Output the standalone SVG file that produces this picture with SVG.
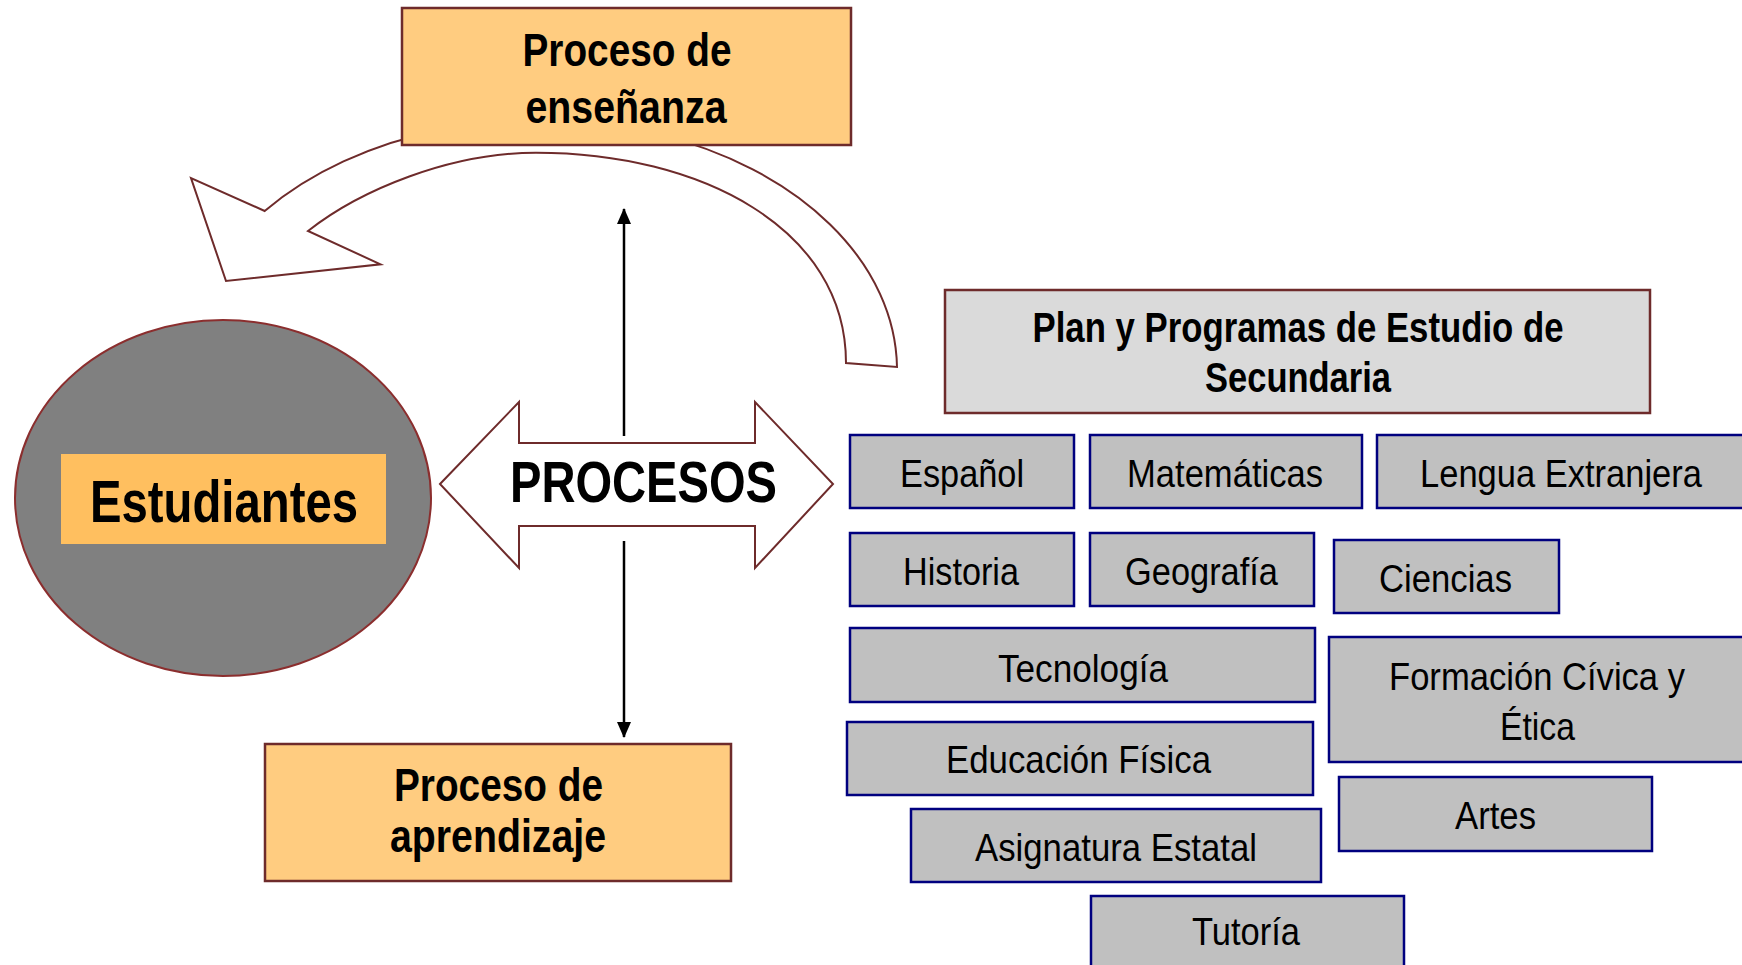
<svg xmlns="http://www.w3.org/2000/svg" width="1742" height="965" viewBox="0 0 1742 965">
<defs>
<style>
.bold{font-family:"Liberation Sans Narrow","Liberation Sans",Arial,sans-serif;font-weight:bold;fill:#000;text-anchor:middle}
.reg{font-family:"Liberation Sans Narrow","Liberation Sans",Arial,sans-serif;font-size:39px;fill:#000;text-anchor:middle}
.subj{fill:#C0C0C0;stroke:#00007F;stroke-width:2.5}
.orange{fill:#FFCC80;stroke:#6E2B2B;stroke-width:2.5}
.shape{fill:#FFFFFF;stroke:#6E2B2B;stroke-width:2}
</style>
<marker id="ah" markerUnits="userSpaceOnUse" markerWidth="16" markerHeight="16" viewBox="0 0 16 16" refX="15" refY="8" orient="auto">
<path d="M0,1 L16,8 L0,15 Z" fill="#000"/>
</marker>
</defs>
<rect width="1742" height="965" fill="#FFFFFF"/>

<g id="connectors">
<path id="curved-arrow" class="shape" d="M897,367 A357,250 0 0 0 264.7,211 L191,178 L226,281 L380.5,264.3 L308,231 C360,190 450,152.7 536,152.7 C700,152.7 846,228 846,363 Z"/>
<line x1="624" y1="436" x2="624" y2="209" stroke="#000" stroke-width="2.5" marker-end="url(#ah)"/>
<line x1="624" y1="541" x2="624" y2="737" stroke="#000" stroke-width="2.5" marker-end="url(#ah)"/>
</g>

<g id="proceso-ensenanza">
<rect class="orange" x="402" y="8" width="449" height="137"/>
<text class="bold" font-size="46" x="627" y="66" textLength="209" lengthAdjust="spacingAndGlyphs">Proceso de</text>
<text class="bold" font-size="46" x="626" y="123" textLength="201" lengthAdjust="spacingAndGlyphs">enseñanza</text>
</g>

<g id="estudiantes">
<ellipse cx="223" cy="498" rx="208" ry="178" fill="#808080" stroke="#8B2E2E" stroke-width="2"/>
<rect x="61" y="454" width="325" height="90" fill="#FFBF5F"/>
<text class="bold" font-size="60" x="224" y="522" textLength="268" lengthAdjust="spacingAndGlyphs">Estudiantes</text>
</g>

<g id="procesos">
<path class="shape" d="M440,484 L519,402 L519,443 L755,443 L755,402 L833,484 L755,568 L755,526 L519,526 L519,568 Z"/>
<text class="bold" font-size="58" x="643.5" y="502" textLength="267" lengthAdjust="spacingAndGlyphs">PROCESOS</text>
</g>

<g id="proceso-aprendizaje">
<rect class="orange" x="265" y="744" width="466" height="137"/>
<text class="bold" font-size="46" x="498.5" y="801" textLength="209" lengthAdjust="spacingAndGlyphs">Proceso de</text>
<text class="bold" font-size="46" x="498" y="852" textLength="216" lengthAdjust="spacingAndGlyphs">aprendizaje</text>
</g>

<g id="plan">
<rect x="945" y="290" width="705" height="123" fill="#DADADA" stroke="#6E2B2B" stroke-width="2.5"/>
<text class="bold" font-size="42" x="1298" y="342" textLength="531" lengthAdjust="spacingAndGlyphs">Plan y Programas de Estudio de</text>
<text class="bold" font-size="42" x="1298" y="392" textLength="186" lengthAdjust="spacingAndGlyphs">Secundaria</text>
</g>

<g id="espanol"><rect class="subj" x="850" y="435" width="224" height="73"/><text class="reg" x="962" y="487" textLength="124" lengthAdjust="spacingAndGlyphs">Español</text></g>
<g id="matematicas"><rect class="subj" x="1090" y="435" width="272" height="73"/><text class="reg" x="1225" y="487" textLength="196" lengthAdjust="spacingAndGlyphs">Matemáticas</text></g>
<g id="lengua-extranjera"><rect class="subj" x="1377" y="435" width="380" height="73"/><text class="reg" x="1561" y="487" textLength="282" lengthAdjust="spacingAndGlyphs">Lengua Extranjera</text></g>
<g id="historia"><rect class="subj" x="850" y="533" width="224" height="73"/><text class="reg" x="961" y="585" textLength="116" lengthAdjust="spacingAndGlyphs">Historia</text></g>
<g id="geografia"><rect class="subj" x="1090" y="533" width="224" height="73"/><text class="reg" x="1201.5" y="585" textLength="153" lengthAdjust="spacingAndGlyphs">Geografía</text></g>
<g id="ciencias"><rect class="subj" x="1334" y="540" width="225" height="73"/><text class="reg" x="1445.5" y="592" textLength="133" lengthAdjust="spacingAndGlyphs">Ciencias</text></g>
<g id="tecnologia"><rect class="subj" x="850" y="628" width="465" height="74"/><text class="reg" x="1083" y="682" textLength="170" lengthAdjust="spacingAndGlyphs">Tecnología</text></g>
<g id="formacion"><rect class="subj" x="1329" y="637" width="430" height="125"/><text class="reg" x="1537" y="690" textLength="296" lengthAdjust="spacingAndGlyphs">Formación Cívica y</text><text class="reg" x="1537.5" y="740" textLength="75" lengthAdjust="spacingAndGlyphs">Ética</text></g>
<g id="educacion-fisica"><rect class="subj" x="847" y="722" width="466" height="73"/><text class="reg" x="1078.5" y="773" textLength="265" lengthAdjust="spacingAndGlyphs">Educación Física</text></g>
<g id="artes"><rect class="subj" x="1339" y="777" width="313" height="74"/><text class="reg" x="1495.5" y="829" textLength="81" lengthAdjust="spacingAndGlyphs">Artes</text></g>
<g id="asignatura-estatal"><rect class="subj" x="911" y="809" width="410" height="73"/><text class="reg" x="1116" y="861" textLength="282" lengthAdjust="spacingAndGlyphs">Asignatura Estatal</text></g>
<g id="tutoria"><rect class="subj" x="1091" y="896" width="313" height="90"/><text class="reg" x="1246" y="945" textLength="108" lengthAdjust="spacingAndGlyphs">Tutoría</text></g>
</svg>
